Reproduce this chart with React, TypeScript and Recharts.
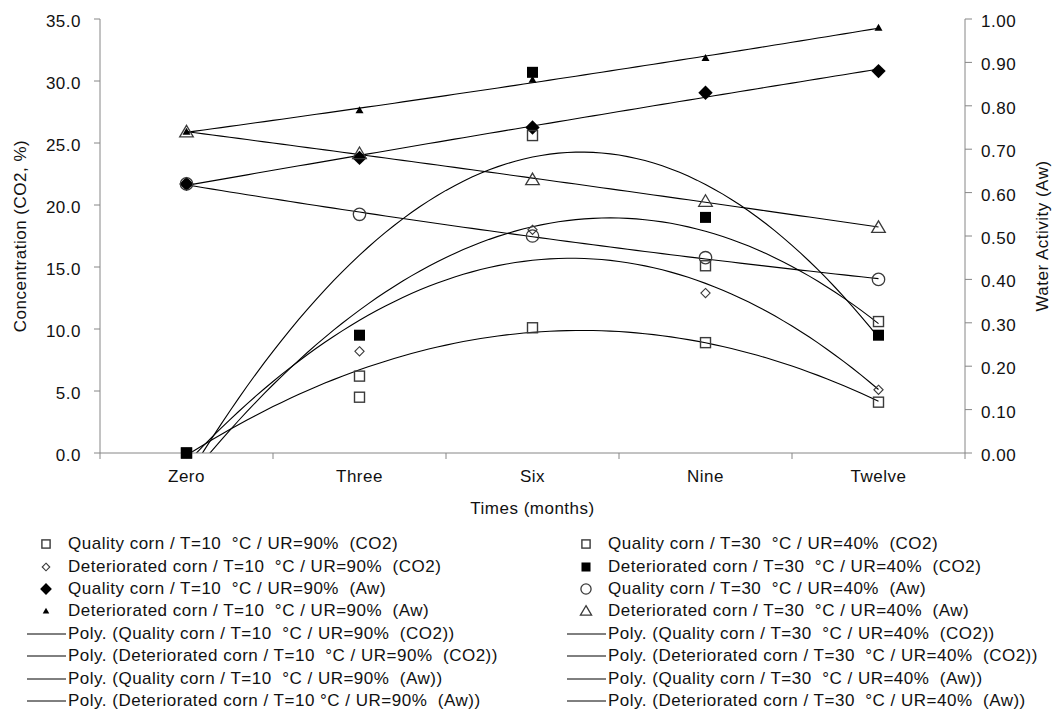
import { ComposedChart, Line, Scatter, XAxis, YAxis } from 'recharts';

if (typeof document !== 'undefined') document.body.style.margin = '0';

// storage time categories (months)
const categories = ['Zero', 'Three', 'Six', 'Nine', 'Twelve'];
const positions = [0, 1, 2, 3, 4];

// CO2 concentration (%) - left axis
const qualityT10Co2 = [0, 6.2, 10.1, 8.9, 4.1];
const deterT10Co2 = [0, 8.2, 18.0, 12.9, 5.1];
const qualityT30Co2 = [0, 4.5, 25.6, 15.1, 10.6];
const deterT30Co2 = [0, 9.5, 30.7, 19.0, 9.5];

// water activity - right axis
const qualityT10Aw = [0.62, 0.68, 0.75, 0.83, 0.88];
const deterT10Aw = [0.74, 0.79, 0.86, 0.91, 0.98];
const qualityT30Aw = [0.62, 0.55, 0.5, 0.45, 0.4];
const deterT30Aw = [0.74, 0.69, 0.63, 0.58, 0.52];

const co2Ticks = [0, 5, 10, 15, 20, 25, 30, 35];
const awTicks = [0, 0.1, 0.2, 0.3, 0.4, 0.5, 0.6, 0.7, 0.8, 0.9, 1.0];
const xTicks = [-0.5, 0, 0.5, 1, 1.5, 2, 2.5, 3, 3.5, 4, 4.5];

const FONT = '"Liberation Sans", Arial, sans-serif';
const AXIS = '#868686';
const OPEN = '#3a3a3a';

type Kind = 'openSquare' | 'openDiamond' | 'diamond' | 'smallTriangle' | 'square' | 'openCircle' | 'openTriangle';

const series: { name: string; trendName?: string; values: number[]; axis: 'co2' | 'aw'; kind: Kind; col: 0 | 1 }[] = [
  { name: 'Quality corn / T=10  °C / UR=90%  (CO2)', values: qualityT10Co2, axis: 'co2', kind: 'openSquare', col: 0 },
  { name: 'Deteriorated corn / T=10  °C / UR=90%  (CO2)', values: deterT10Co2, axis: 'co2', kind: 'openDiamond', col: 0 },
  { name: 'Quality corn / T=10  °C / UR=90%  (Aw)', values: qualityT10Aw, axis: 'aw', kind: 'diamond', col: 0 },
  {
    name: 'Deteriorated corn / T=10  °C / UR=90%  (Aw)',
    trendName: 'Deteriorated corn / T=10 °C / UR=90%  (Aw)',
    values: deterT10Aw, axis: 'aw', kind: 'smallTriangle', col: 0,
  },
  { name: 'Quality corn / T=30  °C / UR=40%  (CO2)', values: qualityT30Co2, axis: 'co2', kind: 'openSquare', col: 1 },
  { name: 'Deteriorated corn / T=30  °C / UR=40%  (CO2)', values: deterT30Co2, axis: 'co2', kind: 'square', col: 1 },
  { name: 'Quality corn / T=30  °C / UR=40%  (Aw)', values: qualityT30Aw, axis: 'aw', kind: 'openCircle', col: 1 },
  { name: 'Deteriorated corn / T=30  °C / UR=40%  (Aw)', values: deterT30Aw, axis: 'aw', kind: 'openTriangle', col: 1 },
];

// 2nd order least squares trendline (what Excel's "Poly." does)
function polyTrend(values: number[]) {
  const n = values.length;
  const mid = (n - 1) / 2;
  const ts = positions.map((p) => p - mid);
  const st2 = ts.reduce((a, t) => a + t * t, 0);
  const k = st2 / n;
  const mean = values.reduce((a, v) => a + v, 0) / n;
  const c1 = ts.reduce((a, t, i) => a + t * values[i], 0) / st2;
  const p2 = ts.map((t) => t * t - k);
  const c2 = p2.reduce((a, p, i) => a + p * values[i], 0) / p2.reduce((a, p) => a + p * p, 0);
  const out: { x: number; y: number }[] = [];
  for (let i = 0; i <= 80; i++) {
    const x = (positions[n - 1] * i) / 80;
    const t = x - mid;
    out.push({ x, y: mean + c1 * t + c2 * (t * t - k) });
  }
  return out;
}

function Marker({ kind, cx, cy, s = 1 }: { kind: Kind; cx: number; cy: number; s?: number }) {
  switch (kind) {
    case 'openSquare':
      return <rect x={cx - 5 * s} y={cy - 5 * s} width={10 * s} height={10 * s} fill="none" stroke={OPEN} strokeWidth={1.4} />;
    case 'openDiamond': {
      const r = 4.6 * s;
      return <polygon points={`${cx},${cy - r} ${cx + r},${cy} ${cx},${cy + r} ${cx - r},${cy}`} fill="none" stroke={OPEN} strokeWidth={1.1} />;
    }
    case 'diamond': {
      const r = 7.2 * s;
      return <polygon points={`${cx},${cy - r} ${cx + r},${cy} ${cx},${cy + r} ${cx - r},${cy}`} fill="#000" />;
    }
    case 'smallTriangle':
      return <polygon points={`${cx},${cy - 4 * s} ${cx + 4 * s},${cy + 3 * s} ${cx - 4 * s},${cy + 3 * s}`} fill="#000" />;
    case 'square':
      return <rect x={cx - 5.5 * s} y={cy - 5.5 * s} width={11 * s} height={11 * s} fill="#000" />;
    case 'openCircle':
      return <circle cx={cx} cy={cy} r={6.2 * s} fill="none" stroke={OPEN} strokeWidth={1.3} />;
    case 'openTriangle':
      return <polygon points={`${cx},${cy - 6.5 * s} ${cx + 6.8 * s},${cy + 5 * s} ${cx - 6.8 * s},${cy + 5 * s}`} fill="none" stroke={OPEN} strokeWidth={1.3} />;
  }
  return null;
}

const textStyle = { fontFamily: FONT, fontSize: 17, letterSpacing: 0.5, fill: '#111' };

function XTick({ x, y, payload }: any) {
  const v = payload.value;
  if (Number.isInteger(v)) {
    return (
      <text x={x} y={y + 23} textAnchor="middle" style={textStyle}>
        {categories[v]}
      </text>
    );
  }
  return <line x1={x} x2={x} y1={y - 6} y2={y} stroke={AXIS} />;
}

function LegendRow({ label, kind, line }: { label: string; kind?: Kind; line?: boolean }) {
  return (
    <div style={{ display: 'flex', alignItems: 'center', height: 22.4 }}>
      <svg width={40} height={22} style={{ flex: 'none' }}>
        {line ? <line x1={0} x2={39} y1={11} y2={11} stroke="#000" strokeWidth={1} /> : <Marker kind={kind!} cx={19} cy={11} s={0.82} />}
      </svg>
      <span style={{ whiteSpace: 'pre', marginLeft: 1 }}>{label}</span>
    </div>
  );
}

export default function App() {
  const legendCols = [0, 1].map((c) => series.filter((s) => s.col === c));
  const legendBox = { position: 'absolute' as const, top: 533, fontSize: 17, letterSpacing: 0.5, color: '#111' };
  return (
    <div style={{ position: 'relative', width: 1053, height: 714, background: '#fff', fontFamily: FONT }}>
      <ComposedChart width={1053} height={530} margin={{ top: 19, right: 0, bottom: 0, left: 0 }}>
        <XAxis
          type="number"
          dataKey="x"
          domain={[-0.5, 4.5]}
          ticks={xTicks}
          interval={0}
          tickLine={false}
          tickSize={6}
          tickMargin={0}
          height={77}
          axisLine={{ stroke: AXIS }}
          tick={<XTick />}
          label={{ value: 'Times (months)', position: 'insideBottom', offset: 16, style: textStyle }}
        />
        <YAxis
          yAxisId="co2"
          domain={[0, 35]}
          ticks={co2Ticks}
          interval={0}
          width={100}
          tickSize={6}
          tickMargin={13}
          axisLine={{ stroke: AXIS }}
          tickLine={{ stroke: AXIS }}
          tick={{ ...textStyle, dy: 2 }}
          tickFormatter={(v: number) => v.toFixed(1)}
          label={{ value: 'Concentration (CO2, %)', angle: -90, position: 'insideLeft', offset: 20, style: { ...textStyle, textAnchor: 'middle' } }}
        />
        <YAxis yAxisId="co2Trend" hide domain={[0, 35]} allowDataOverflow />
        <YAxis
          yAxisId="aw"
          orientation="right"
          domain={[0, 1]}
          ticks={awTicks}
          interval={0}
          width={88}
          tickSize={7}
          tickMargin={9}
          axisLine={{ stroke: AXIS }}
          tickLine={{ stroke: AXIS }}
          tick={{ ...textStyle, dy: 2 }}
          tickFormatter={(v: number) => v.toFixed(2)}
          label={{ value: 'Water Activity (Aw)', angle: -90, position: 'insideRight', offset: 11, style: { ...textStyle, textAnchor: 'middle' } }}
        />

        {series.map((s) => (
          <Line
            key={'trend-' + s.name}
            data={polyTrend(s.values)}
            dataKey="y"
            yAxisId={s.axis === 'co2' ? 'co2Trend' : 'aw'}
            type="linear"
            stroke="#000"
            strokeWidth={1.1}
            dot={false}
            activeDot={false}
            isAnimationActive={false}
          />
        ))}

        {series.map((s) => (
          <Scatter
            key={'pts-' + s.name}
            data={s.values.map((v, i) => ({ x: positions[i], y: v }))}
            dataKey="y"
            yAxisId={s.axis}
            isAnimationActive={false}
            shape={(p: any) => <Marker kind={s.kind} cx={p.cx} cy={p.cy} />}
          />
        ))}
      </ComposedChart>

      {legendCols.map((col, c) => (
        <div key={c} style={{ ...legendBox, left: c === 0 ? 27 : 567 }}>
          {col.map((s) => <LegendRow key={s.name} label={s.name} kind={s.kind} />)}
          {col.map((s) => <LegendRow key={'p' + s.name} label={`Poly. (${s.trendName ?? s.name})`} line />)}
        </div>
      ))}
    </div>
  );
}
